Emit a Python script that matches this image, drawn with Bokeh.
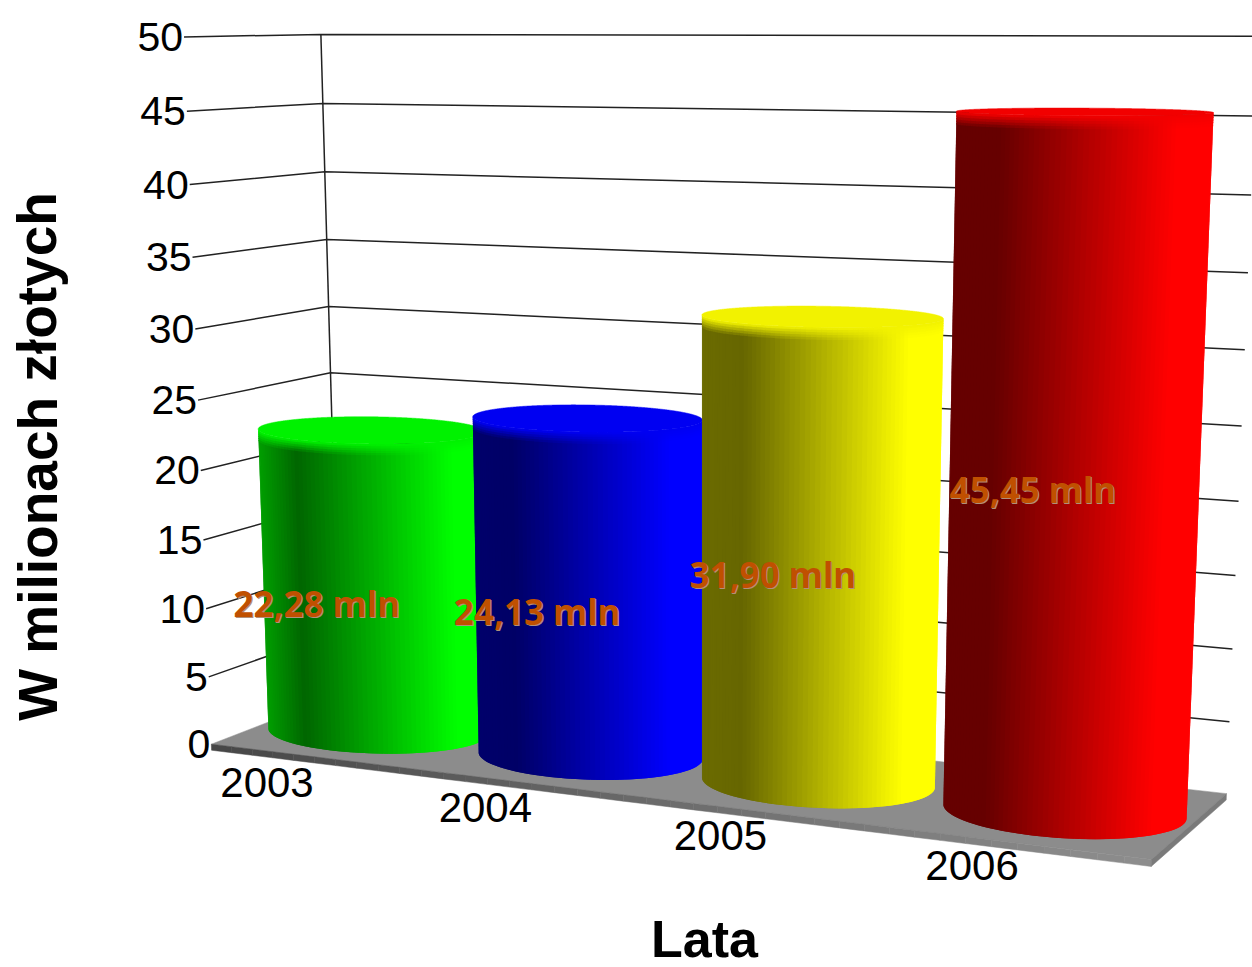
import numpy as np
from bokeh.plotting import figure
from bokeh.models import Range1d
from bokeh.core.properties import value
from bokeh.embed import file_html
from bokeh.resources import INLINE

# ---- chart data ----
years = ["2003", "2004", "2005", "2006"]
amounts = [22.28, 24.13, 31.90, 45.45]
amount_labels = ["22,28 mln", "24,13 mln", "31,90 mln", "45,45 mln"]
y_ticks = [0, 5, 10, 15, 20, 25, 30, 35, 40, 45, 50]
y_title = "W milionach złotych"
x_title = "Lata"

# ---- styles ----
base_colors = [(0, 255, 0), (0, 0, 255), (255, 255, 0), (255, 0, 0)]
left_shade = [0.62, 0.42, 0.42, 0.40]
label_dx = [-9, -7, -7, -5]
label_dy = [7, 8, 9, 14]
AXIS_MAX = 50.0

# ---- camera: world box (X across, Y height 0..1, Z depth) calibrated to the scene ----
world = [(0,0,0),(0,1,0),(0,0,1),(0,1,1),(1,0,1),(1,1,1),(1,0,0),(1,1,0)]
screen = [(213,745),(183,35),(337,693),(321,35),(1227,792),(1258,37),(1150,860),(1179,38)]
A, b = [], []
for (X, Y, Z), (sx, sy) in zip(world, screen):
    A.append([X, Y, Z, 1, 0, 0, 0, 0, -sx*X, -sx*Y, -sx*Z]); b.append(sx)
    A.append([0, 0, 0, 0, X, Y, Z, 1, -sy*X, -sy*Y, -sy*Z]); b.append(sy)
P = np.linalg.lstsq(np.array(A, float), np.array(b, float), rcond=None)[0]

def project(X, v, Z):
    X, v, Z = np.asarray(X, float), np.asarray(v, float), np.asarray(Z, float)
    Y = v / AXIS_MAX
    w = P[8]*X + P[9]*Y + P[10]*Z + 1
    return (P[0]*X + P[1]*Y + P[2]*Z + P[3]) / w, (P[4]*X + P[5]*Y + P[6]*Z + P[7]) / w

def hexc(c):
    return "#%02x%02x%02x" % tuple(int(round(min(255, max(0, k)))) for k in c)

p = figure(width=1252, height=967, output_backend="svg", toolbar_location=None,
           x_range=Range1d(0, 1252), y_range=Range1d(967, 0), min_border=0)
p.axis.visible = False
p.grid.visible = False
p.outline_line_color = None
p.background_fill_color = "white"
p.border_fill_color = "white"

# ---- grid: front-left -> back-left -> back-right for each tick, plus the back corner line ----
gx, gy = [], []
for t in y_ticks[1:]:
    x0, y0 = project(0, t, 0)
    x1, y1 = project(0, t, 1)
    x2, y2 = project(1, t, 1)
    gx.append([float(x0), float(x1), float(x2)])
    gy.append([float(y0), float(y1), float(y2)])
x0, y0 = project(0, 0, 1)
x1, y1 = project(0, AXIS_MAX, 1)
gx.append([float(x0), float(x1)])
gy.append([float(y0), float(y1)])
p.multi_line(gx, gy, line_color="#222222", line_width=1.5)

# ---- floor slab ----
SLAB = -0.45
fx, fy = project([0, 0, 1, 1], 0, [0, 1, 1, 0])
p.patch(fx.tolist(), fy.tolist(), fill_color="#8c8c8c", line_color="#8c8c8c", line_width=0.5)
n_seg = 40
ts = np.linspace(0, 1, n_seg + 1)
sxs, sys_, scol = [], [], []
for a, c in zip(ts[:-1], ts[1:]):
    ax, ay = project([a, c, c, a], [0, 0, SLAB, SLAB], 0)
    sxs.append(ax.tolist()); sys_.append(ay.tolist())
    g = 70 + 72 * ((a + c) / 2)
    scol.append(hexc((g, g, g)))
rx_, ry_ = project([1, 1, 1, 1], [0, 0, SLAB, SLAB], [0, 1, 1, 0])
sxs.append(rx_.tolist()); sys_.append(ry_.tolist()); scol.append("#7a7a7a")
p.patches(sxs, sys_, fill_color=scol, line_color=scol, line_width=0.5)

# ---- cylinders ----
centers = [0.125, 0.375, 0.6255, 0.8775]
radii_x = [0.122, 0.118, 0.117, 0.1157]
RZ, ZC = 0.38, 0.5

def ramp(f, start):
    return float(np.interp(f, [0, 0.17, 0.86, 1], [start, 0.40, 1, 1]))

for xc, RX, v, base, start in zip(centers, radii_x, amounts, base_colors, left_shade):
    th = np.radians(np.arange(0, 360, 0.5))
    cx = xc + RX*np.cos(th)
    cz = ZC + RZ*np.sin(th)
    sx, sy = project(cx, v/2, cz)
    i0, i1 = int(np.argmin(sx)), int(np.argmax(sx))
    a0, a1 = th[i0], th[i1]
    if a1 < a0:
        a1 += 2*np.pi
    arc1 = np.linspace(a0, a1, 73)
    arc2 = np.linspace(a1, a0 + 2*np.pi, 73)
    # the visible half is the one nearer the viewer (smaller Z)
    arc = arc1 if np.mean(np.sin(arc1)) < 0 else arc2[::-1]
    if project(xc + RX*np.cos(arc[0]), v/2, ZC + RZ*np.sin(arc[0]))[0] > project(xc + RX*np.cos(arc[-1]), v/2, ZC + RZ*np.sin(arc[-1]))[0]:
        arc = arc[::-1]
    xmin, xmax = sx[i0], sx[i1]
    top_col = np.array(base) * 0.95
    sxl, syl, col = [], [], []
    n = len(arc)
    for i in range(n - 1):
        a, c = arc[i], arc[i + 1]
        e = arc[min(i + 2, n - 1)]      # strip runs under its right neighbour, so no seams show
        Xs = xc + RX*np.cos([a, e, e, a])
        Zs = ZC + RZ*np.sin([a, e, e, a])
        mx, _ = project(xc + RX*np.cos((a+c)/2), v/2, ZC + RZ*np.sin((a+c)/2))
        f = (float(mx) - xmin) / (xmax - xmin)
        side = np.array(base) * ramp(f, start)
        bands = [(0.0, v - 0.8, 0.0)] + [(v - 0.8 + 0.16*j, v - 0.8 + 0.16*(j+1), 0.15 + 0.19*j) for j in range(5)]
        for lo, hi, mix in bands:
            qx, qy = project(Xs, [lo, lo, min(hi + 0.06, v), min(hi + 0.06, v)], Zs)
            sxl.append(qx.tolist()); syl.append(qy.tolist())
            col.append(hexc(side*(1-mix) + top_col*mix))
    p.patches(sxl, syl, fill_color=col, line_color=None)
    tx, ty = project(cx, v, cz)
    p.patch(tx.tolist(), ty.tolist(), fill_color=hexc(top_col), line_color=hexc(top_col), line_width=0.5)

# ---- value labels ----
lx, ly = [], []
for xc, v, dx, dy in zip([0.125, 0.375, 0.625, 0.875], amounts, label_dx, label_dy):
    a, b_ = project(xc, 0, ZC - 0.38)
    c, d = project(xc, v, ZC - 0.38)
    lx.append(float(a + c)/2 + dx)
    ly.append(float(b_ + d)/2 + dy)
label_font = value("Noto Sans")
p.text([x + 1 for x in lx], [y + 1 for y in ly], text=amount_labels, text_font=label_font,
       text_font_size="35px", text_font_style="bold", text_color="#b0907a",
       text_align="center", text_baseline="middle")
p.text(lx, ly, text=amount_labels, text_font=label_font,
       text_font_size="35px", text_font_style="bold", text_color="#c05000",
       text_align="center", text_baseline="middle")

# ---- tick labels ----
ax_font = value("Liberation Sans")
tx, ty = project(0, np.array(y_ticks, float), 0)
p.text((tx - 1).tolist(), ty.tolist(), text=[str(t) for t in y_ticks], text_font=ax_font,
       text_font_size="41px", text_color="black", text_align="right", text_baseline="middle")

cat_pos = [0.068, 0.323, 0.578, 0.831]
cat_dy = np.array([31, 30, 29, 28])
cx_, cy_ = project(cat_pos, 0, 0)
p.text(cx_.tolist(), (cy_ + cat_dy).tolist(), text=years, text_font=ax_font,
       text_font_size="42px", text_color="black", text_align="center", text_baseline="middle")

# ---- axis titles ----
p.text([37], [456], text=[y_title], text_font=ax_font, text_font_size="55px",
       text_font_style="bold", text_color="black", text_align="center", text_baseline="middle",
       angle=[np.pi/2])
p.text([704], [938], text=[x_title], text_font=ax_font, text_font_size="52px",
       text_font_style="bold", text_color="black", text_align="center", text_baseline="middle")

open("out.html", "w").write(file_html(p, INLINE))
